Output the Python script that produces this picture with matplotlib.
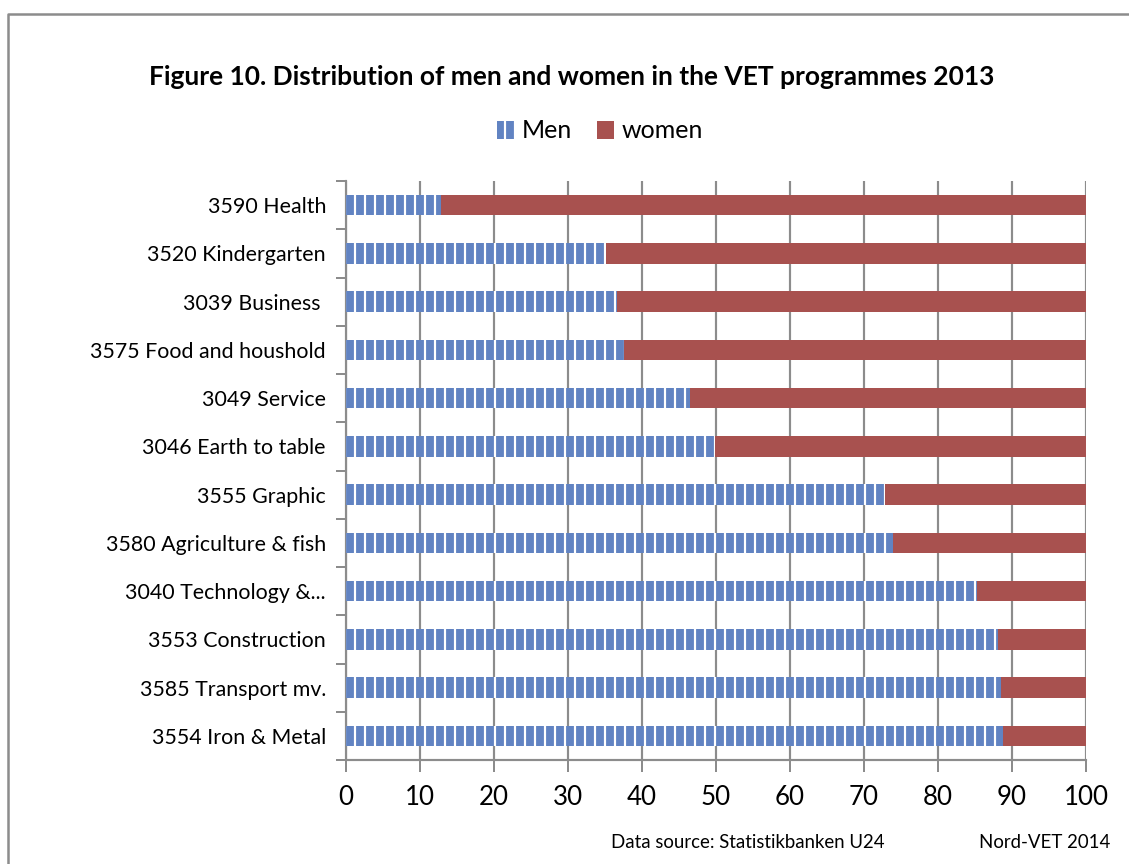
import matplotlib
matplotlib.use("Agg")
import matplotlib.pyplot as plt
from matplotlib.patches import Patch
from matplotlib.lines import Line2D

plt.rcParams['font.family'] = ['Lato', 'DejaVu Sans']
plt.rcParams['hatch.linewidth'] = 1.3

# data (share of men in %, women is the rest)
programmes = ["3590 Health", "3520 Kindergarten", "3039 Business ", "3575 Food and houshold",
              "3049 Service", "3046 Earth to table", "3555 Graphic", "3580 Agriculture & fish",
              "3040 Technology &...", "3553 Construction", "3585 Transport mv.", "3554 Iron & Metal"]
men = [12.8, 35.1, 36.6, 37.5, 46.5, 49.9, 72.9, 73.9, 85.3, 88.1, 88.5, 88.8]
women = [100 - m for m in men]
x_ticks = [0, 10, 20, 30, 40, 50, 60, 70, 80, 90, 100]

blue = "#6183C2"
red = "#A8514F"
grey = "#8C8C8C"

fig = plt.figure(figsize=(1129 / 120, 864 / 120), dpi=120)
ax = fig.add_axes([346 / 1129, 1 - 760 / 864, 740 / 1129, 579 / 864])

pos = list(range(len(programmes)))
ax.barh(pos, men, height=0.42, color=blue, edgecolor="white", linewidth=0, hatch="||", label="Men", zorder=3)
ax.barh(pos, women, left=men, height=0.42, color=red, linewidth=0, label="women", zorder=3)

ax.set_ylim(len(programmes) - 0.5, -0.5)
ax.set_xlim(0, 100)
ax.set_xticks(x_ticks)
ax.set_xticklabels([str(t) for t in x_ticks], fontsize=15.5)
ax.set_yticks(pos)
ax.set_yticklabels(programmes, fontsize=12.8)
ax.set_yticks([p + 0.5 for p in [-1] + pos], minor=True)
ax.tick_params(axis="y", which="major", length=0, pad=12)
ax.tick_params(axis="y", which="minor", length=6, color=grey, width=1.2)
ax.tick_params(axis="x", length=7, color=grey, width=1.2, pad=8)
ax.grid(axis="x", color=grey, linewidth=1.3, zorder=0)
for s in ["top", "right"]:
    ax.spines[s].set_visible(False)
for s in ["left", "bottom"]:
    ax.spines[s].set_color(grey)
    ax.spines[s].set_linewidth(1.3)

fig.text(572 / 1129, 1 - 77 / 864, "Figure 10. Distribution of men and women in the VET programmes 2013",
         ha="center", va="center", fontsize=15.8, fontweight="bold")

handles = [Patch(facecolor=blue, edgecolor="white", linewidth=0, hatch="||"),
           Patch(facecolor=red, linewidth=0)]
fig.legend(handles, ["Men", "women"], loc="center", bbox_to_anchor=(600 / 1129, 1 - 131 / 864),
           ncol=2, frameon=False, fontsize=15, handlelength=0.7, handleheight=0.7,
           handletextpad=0.3, columnspacing=1.0)

fig.text(611 / 1129, 1 - 843 / 864, "Data source: Statistikbanken U24", ha="left", va="center", fontsize=11.2)
fig.text(1110 / 1129, 1 - 843 / 864, "Nord-VET 2014", ha="right", va="center", fontsize=11.2)

# outer frame: only the left and top edges fall inside the picture
x0, y0 = 8 / 1129, 1 - 14 / 864
fig.add_artist(Line2D([x0, x0, 1.0], [0.0, y0, y0], transform=fig.transFigure, color=grey, linewidth=1.5))

fig.savefig("out.png", dpi=120)
